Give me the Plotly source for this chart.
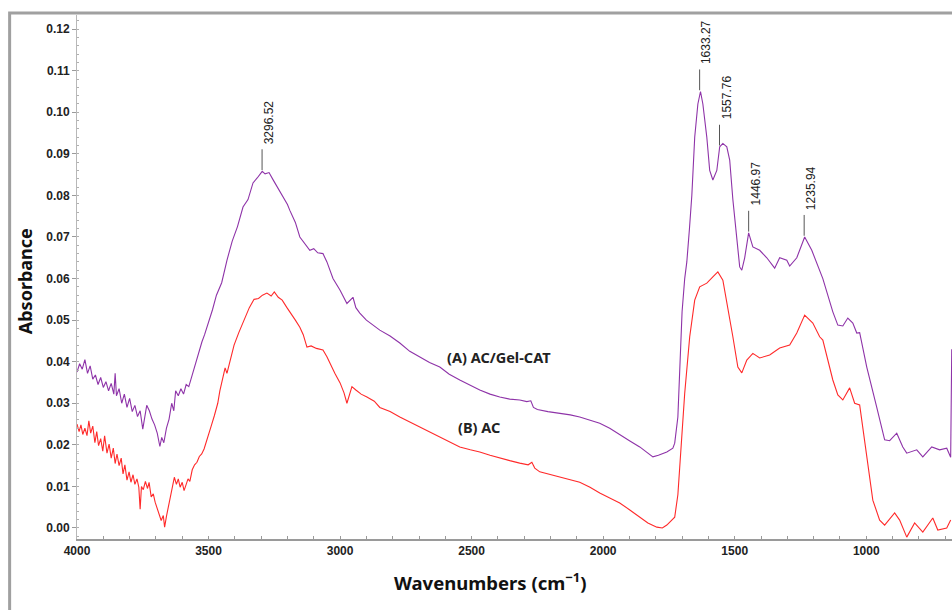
import plotly.graph_objects as go
import numpy as np

# ---- Data ----
wn_A = [4000, 3990, 3980, 3970, 3960, 3950, 3940, 3930, 3920, 3910, 3900, 3890, 3880, 3870, 3860, 3855,
        3850, 3840, 3830, 3820, 3810, 3800, 3790, 3780, 3770, 3760, 3750, 3740, 3735, 3725, 3715, 3705,
        3695, 3685, 3678, 3670, 3660, 3650, 3640, 3632, 3625, 3615, 3605, 3595, 3585, 3575, 3565, 3555,
        3545, 3535, 3525, 3515, 3505, 3495, 3485, 3470, 3450, 3430, 3410, 3390, 3369, 3350, 3331, 3315,
        3296, 3285, 3270, 3255, 3240, 3220, 3200, 3191, 3170, 3153, 3135, 3115, 3100, 3085, 3065, 3050,
        3027, 3000, 2974, 2960, 2951, 2940, 2925, 2900, 2875, 2849, 2810, 2773, 2735, 2697, 2660, 2621,
        2585, 2545, 2510, 2469, 2430, 2393, 2355, 2317, 2290, 2275, 2265, 2250, 2210, 2165, 2125, 2089,
        2050, 2013, 1975, 1937, 1900, 1861, 1830, 1811, 1790, 1770, 1758, 1735, 1728, 1716, 1709, 1700,
        1690, 1682, 1672, 1663, 1652, 1640, 1630, 1621, 1606, 1595, 1583, 1568, 1557, 1545, 1530, 1519,
        1507, 1492, 1481, 1473, 1462, 1447, 1431, 1405, 1378, 1348, 1329, 1302, 1291, 1264, 1234, 1207,
        1177, 1165, 1127, 1108, 1089, 1070, 1051, 1036, 1025, 998, 960, 930, 911, 884, 861, 846,
        808, 785, 751, 721, 694, 679, 675]
abs_A = [0.0375, 0.0395, 0.0382, 0.0405, 0.0372, 0.0390, 0.0358, 0.0368, 0.0345, 0.0362, 0.0338, 0.0352, 0.0330, 0.0348, 0.0322, 0.0372,
         0.0318, 0.0335, 0.0300, 0.0322, 0.0290, 0.0312, 0.0280, 0.0295, 0.0268, 0.0282, 0.0238, 0.0270, 0.0295, 0.0282, 0.0262, 0.0248,
         0.0228, 0.0196, 0.0218, 0.0205, 0.0240, 0.0262, 0.0300, 0.0282, 0.0330, 0.0318, 0.0335, 0.0322, 0.0345, 0.0340, 0.0362, 0.0385,
         0.0405, 0.0432, 0.0448, 0.0465, 0.0485, 0.0502, 0.0525, 0.0560, 0.0590, 0.0644, 0.0690, 0.0725, 0.0772, 0.0790, 0.0830, 0.0842,
         0.0858, 0.0852, 0.0855, 0.0838, 0.0822, 0.0800, 0.0778, 0.0764, 0.0735, 0.0700, 0.0685, 0.0668, 0.0672, 0.0662, 0.0660, 0.0640,
         0.0600, 0.0572, 0.0540, 0.0548, 0.0555, 0.0530, 0.0517, 0.0500, 0.0488, 0.0476, 0.0462, 0.0445, 0.0425, 0.0411, 0.0398, 0.0387,
         0.0370, 0.0356, 0.0344, 0.0332, 0.0322, 0.0315, 0.0310, 0.0308, 0.0304, 0.0306, 0.0290, 0.0285, 0.0280, 0.0276, 0.0272, 0.0267,
         0.0260, 0.0252, 0.0240, 0.0224, 0.0210, 0.0195, 0.0180, 0.0171, 0.0175, 0.0180, 0.0183, 0.0192, 0.0204, 0.0267, 0.0400, 0.0520,
         0.0600, 0.0640, 0.0720, 0.0800, 0.0940, 0.1020, 0.1050, 0.1020, 0.0940, 0.0860, 0.0837, 0.0860, 0.0917, 0.0925, 0.0917, 0.0885,
         0.0790, 0.0690, 0.0628, 0.0620, 0.0650, 0.0710, 0.0676, 0.0668, 0.0650, 0.0625, 0.0650, 0.0644, 0.0630, 0.0650, 0.0700, 0.0668,
         0.0620, 0.0600, 0.0520, 0.0488, 0.0486, 0.0505, 0.0493, 0.0469, 0.0470, 0.0387, 0.0290, 0.0212, 0.0210, 0.0228, 0.0195, 0.0180,
         0.0188, 0.0171, 0.0195, 0.0188, 0.0192, 0.0170, 0.0430]

wn_B = [4000, 3992, 3985, 3978, 3970, 3962, 3955, 3948, 3940, 3932, 3925, 3918, 3910, 3902, 3895, 3886,
        3878, 3870, 3862, 3855, 3848, 3840, 3832, 3825, 3818, 3810, 3802, 3795, 3787, 3780, 3772, 3765,
        3760, 3755, 3748, 3740, 3732, 3726, 3718, 3710, 3703, 3695, 3688, 3680, 3672, 3667, 3660, 3652,
        3645, 3638, 3630, 3622, 3615, 3608, 3600, 3593, 3585, 3578, 3571, 3562, 3553, 3544, 3535, 3526,
        3517, 3508, 3500, 3490, 3478, 3465, 3457, 3445, 3437, 3430, 3420, 3403, 3385, 3365, 3345, 3327,
        3310, 3295, 3278, 3262, 3250, 3235, 3220, 3202, 3185, 3170, 3153, 3140, 3126, 3110, 3090, 3065,
        3050, 3039, 3020, 3000, 2985, 2974, 2965, 2955, 2940, 2920, 2898, 2870, 2849, 2810, 2773, 2735,
        2697, 2660, 2621, 2585, 2545, 2505, 2469, 2430, 2393, 2355, 2317, 2285, 2271, 2260, 2241, 2200,
        2165, 2125, 2089, 2050, 2013, 1975, 1937, 1900, 1861, 1830, 1796, 1775, 1758, 1740, 1728, 1716,
        1709, 1690, 1671, 1652, 1633, 1606, 1583, 1564, 1545, 1526, 1507, 1488, 1473, 1454, 1431, 1405,
        1367, 1329, 1291, 1264, 1234, 1203, 1177, 1165, 1127, 1108, 1089, 1063, 1044, 1025, 998, 975,
        949, 930, 892, 873, 846, 816, 785, 747, 728, 694, 679]
abs_B = [0.0250, 0.0232, 0.0248, 0.0225, 0.0240, 0.0222, 0.0258, 0.0228, 0.0245, 0.0205, 0.0232, 0.0198, 0.0215, 0.0185, 0.0222, 0.0180,
         0.0202, 0.0168, 0.0192, 0.0155, 0.0178, 0.0150, 0.0168, 0.0130, 0.0152, 0.0115, 0.0135, 0.0110, 0.0128, 0.0105, 0.0118, 0.0098,
         0.0045, 0.0100, 0.0092, 0.0112, 0.0095, 0.0110, 0.0075, 0.0082, 0.0062, 0.0048, 0.0035, 0.0018, 0.0030, 0.0002, 0.0028, 0.0055,
         0.0072, 0.0095, 0.0122, 0.0105, 0.0118, 0.0098, 0.0110, 0.0090, 0.0108, 0.0118, 0.0112, 0.0140, 0.0152, 0.0158, 0.0172, 0.0178,
         0.0190, 0.0210, 0.0228, 0.0245, 0.0270, 0.0300, 0.0330, 0.0365, 0.0385, 0.0372, 0.0395, 0.0440, 0.0470, 0.0500, 0.0530, 0.0550,
         0.0552, 0.0560, 0.0565, 0.0558, 0.0568, 0.0555, 0.0548, 0.0530, 0.0515, 0.0500, 0.0483, 0.0465, 0.0435, 0.0438, 0.0432, 0.0428,
         0.0412, 0.0397, 0.0372, 0.0349, 0.0325, 0.0300, 0.0320, 0.0340, 0.0332, 0.0322, 0.0315, 0.0305, 0.0290, 0.0280, 0.0267, 0.0255,
         0.0243, 0.0230, 0.0219, 0.0206, 0.0195, 0.0188, 0.0183, 0.0175, 0.0168, 0.0162, 0.0156, 0.0152, 0.0158, 0.0144, 0.0135, 0.0128,
         0.0123, 0.0116, 0.0110, 0.0098, 0.0084, 0.0072, 0.0060, 0.0044, 0.0026, 0.0012, 0.0002, 0.0000, 0.0007, 0.0020, 0.0026, 0.0080,
         0.0147, 0.0324, 0.0460, 0.0548, 0.0580, 0.0589, 0.0604, 0.0616, 0.0596, 0.0530, 0.0460, 0.0387, 0.0373, 0.0404, 0.0420, 0.0409,
         0.0416, 0.0433, 0.0440, 0.0469, 0.0512, 0.0493, 0.0460, 0.0452, 0.0356, 0.0320, 0.0308, 0.0337, 0.0300, 0.0296, 0.0171, 0.0067,
         0.0019, 0.0007, 0.0036, 0.0019, -0.0022, 0.0012, -0.0010, 0.0024, -0.0005, 0.0000, 0.0019]

peak_wn = [3296.52, 1633.27, 1557.76, 1446.97, 1235.94]
peak_labels = ["3296.52", "1633.27", "1557.76", "1446.97", "1235.94"]

x_ticks = [4000, 3500, 3000, 2500, 2000, 1500, 1000]
y_ticks = [0.00, 0.01, 0.02, 0.03, 0.04, 0.05, 0.06, 0.07, 0.08, 0.09, 0.10, 0.11, 0.12]

PURPLE = "#8e33a8"
RED = "#ff2a2a"

fig = go.Figure()
fig.add_trace(go.Scatter(x=wn_A, y=abs_A, mode="lines", line=dict(color=PURPLE, width=1.1),
                         name="(A) AC/Gel-CAT", showlegend=False))
fig.add_trace(go.Scatter(x=wn_B, y=abs_B, mode="lines", line=dict(color=RED, width=1.1),
                         name="(B) AC", showlegend=False))

# peak markers: leader lines + rotated labels
xa = np.array(wn_A[::-1], dtype=float)
ya = np.array(abs_A[::-1], dtype=float)
for pw, lab in zip(peak_wn, peak_labels):
    win = (xa > pw - 12) & (xa < pw + 12)
    yv = float(np.max(ya[win])) if np.any(win) else float(np.interp(pw, xa, ya))
    y0 = yv + 0.0003
    y1 = y0 + 0.0050
    fig.add_shape(type="line", x0=pw, x1=pw, y0=y0, y1=y1, xref="x", yref="y",
                  line=dict(color="#555555", width=1))
    fig.add_annotation(x=pw, y=y1, xref="x", yref="y", text=lab, showarrow=False,
                       textangle=-90, xanchor="center", yanchor="middle",
                       xshift=7, yshift=27,
                       font=dict(family="Liberation Sans, Arial", size=12, color="#222222"))

fig.add_annotation(x=2396, y=0.0412, xref="x", yref="y", text="(A) AC/Gel-CAT", showarrow=False,
                   font=dict(family="Noto Sans, Open Sans", size=14.5, color="#222222", weight="bold"))
fig.add_annotation(x=2472, y=0.0242, xref="x", yref="y", text="(B) AC", showarrow=False,
                   font=dict(family="Noto Sans, Open Sans", size=14.5, color="#222222", weight="bold"))

# axis titles
fig.add_annotation(x=0.472, y=-0.082, xref="paper", yref="paper", text="Wavenumbers (cm<sup>−1</sup>)",
                   showarrow=False, xanchor="center", yanchor="middle",
                   font=dict(family="Noto Sans, Open Sans", size=18.5, color="#111111", weight="bold"))
fig.add_annotation(x=-0.0594, y=0.492, xref="paper", yref="paper", text="Absorbance",
                   showarrow=False, xanchor="center", yanchor="middle", textangle=-90,
                   font=dict(family="Noto Sans, Open Sans", size=18, color="#111111", weight="bold"))

# outer frame
fig.add_shape(type="rect", xref="paper", yref="paper", x0=-0.077, x1=1.05, y0=-0.2, y1=1.004,
              line=dict(color="#a0a0a0", width=3), fillcolor="rgba(0,0,0,0)")

fig.update_layout(
    width=952, height=610,
    margin=dict(l=77, r=0, t=15, b=71),
    paper_bgcolor="white", plot_bgcolor="white",
    showlegend=False,
    xaxis=dict(range=[4000, 674], tickvals=x_ticks, ticktext=[str(v) for v in x_ticks],
               showgrid=False, zeroline=False, showline=True, linecolor="#9a9a9a", linewidth=1.5,
               ticks="inside", ticklen=3, tickcolor="#9a9a9a",
               minor=dict(dtick=100, ticks="inside", ticklen=3, tickcolor="#9a9a9a", showgrid=False),
               tickfont=dict(family="Liberation Sans, Arial", size=12, color="#222222", weight="bold")),
    yaxis=dict(range=[-0.00265, 0.1234], tickvals=y_ticks, ticktext=["%.2f" % v for v in y_ticks],
               showgrid=False, zeroline=False, showline=True, linecolor="#b8b8b8", linewidth=1,
               ticks="outside", ticklen=4, tickcolor="#9a9a9a",
               minor=dict(dtick=0.002, ticks="inside", ticklen=2, tickcolor="#b0b0b0", showgrid=False),
               tickfont=dict(family="Liberation Sans, Arial", size=12, color="#222222", weight="bold")),
)

fig.write_html("out.html", config={"displayModeBar": False},
               post_script="document.body.style.margin='0';document.body.style.overflow='hidden';")
